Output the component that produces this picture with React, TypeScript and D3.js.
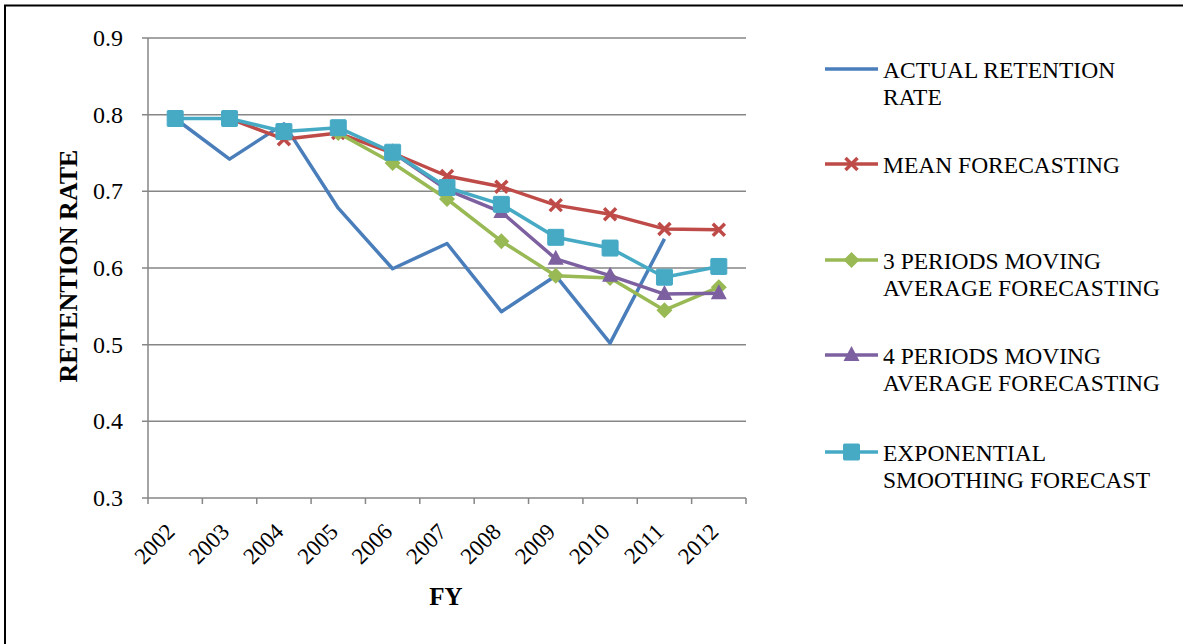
import { useEffect, useRef } from 'react';
import * as d3 from 'd3';

const years = ['2002', '2003', '2004', '2005', '2006', '2007', '2008', '2009', '2010', '2011', '2012'];
const yTicks = [0.3, 0.4, 0.5, 0.6, 0.7, 0.8, 0.9];

// null = no value for that year
const actual = [0.795, 0.742, 0.788, 0.678, 0.599, 0.632, 0.543, 0.590, 0.502, 0.638, null];
const meanForecast = [null, 0.795, 0.768, 0.776, 0.750, 0.720, 0.706, 0.682, 0.670, 0.651, 0.650];
const ma3 = [null, null, null, 0.776, 0.737, 0.690, 0.635, 0.590, 0.587, 0.545, 0.575];
const ma4 = [null, null, null, null, 0.751, 0.702, 0.673, 0.612, 0.590, 0.566, 0.567];
const expSmooth = [0.795, 0.795, 0.778, 0.783, 0.751, 0.705, 0.683, 0.640, 0.626, 0.588, 0.602];

const seriesNames = [
  ['ACTUAL RETENTION', 'RATE'],
  ['MEAN FORECASTING'],
  ['3 PERIODS MOVING', 'AVERAGE FORECASTING'],
  ['4 PERIODS MOVING', 'AVERAGE FORECASTING'],
  ['EXPONENTIAL', 'SMOOTHING FORECAST'],
];

const colors = ['#4a7ebb', '#be4b48', '#98b954', '#7d60a0', '#46aac5'];
const markers = ['none', 'cross', 'diamond', 'triangle', 'square'];

export default function App() {
  const svgRef = useRef<SVGSVGElement>(null);

  useEffect(() => {
    document.body.style.margin = '0';
    if (!svgRef.current) return;
    const svg = d3.select(svgRef.current);
    svg.selectAll('*').remove();

    const W = 1183, H = 644;
    const left = 148, right = 746, top = 38, bottom = 498;
    const font = '"Liberation Serif", "Times New Roman", serif';

    svg.attr('width', W).attr('height', H);
    svg.append('rect').attr('width', W).attr('height', H).attr('fill', '#fff');

    // outer frame (right and bottom sides fall outside the picture)
    svg.append('rect')
      .attr('x', 5).attr('y', 5.5)
      .attr('width', 1200).attr('height', 660)
      .attr('fill', 'none').attr('stroke', '#000').attr('stroke-width', 2);

    const x = d3.scaleBand().domain(years).range([left, right]);
    const y = d3.scaleLinear().domain([0.3, 0.9]).range([bottom, top]);
    const cx = (i: number) => x(years[i])! + x.bandwidth() / 2;

    // gridlines
    yTicks.forEach(t => {
      svg.append('line')
        .attr('x1', left - 6).attr('x2', right)
        .attr('y1', y(t)).attr('y2', y(t))
        .attr('stroke', '#868686').attr('stroke-width', 1.5);
      svg.append('text')
        .attr('x', 123).attr('y', y(t) + 8)
        .attr('text-anchor', 'end')
        .style('font-family', font).style('font-size', '24px')
        .text(t.toFixed(1));
    });

    // y axis line
    svg.append('line')
      .attr('x1', left).attr('x2', left).attr('y1', top).attr('y2', bottom)
      .attr('stroke', '#868686').attr('stroke-width', 1.5);

    // x ticks
    d3.range(years.length + 1).forEach(i => {
      const tx = left + i * x.bandwidth();
      svg.append('line')
        .attr('x1', tx).attr('x2', tx).attr('y1', bottom).attr('y2', bottom + 6)
        .attr('stroke', '#868686').attr('stroke-width', 1.5);
    });

    years.forEach((yr, i) => {
      svg.append('text')
        .attr('transform', `translate(${cx(i) + 1},${bottom + 35}) rotate(-45)`)
        .attr('text-anchor', 'end')
        .style('font-family', font).style('font-size', '23px')
        .text(yr);
    });

    // axis titles
    svg.append('text')
      .attr('x', 446).attr('y', 605)
      .attr('text-anchor', 'middle')
      .style('font-family', font).style('font-size', '25px').style('font-weight', 'bold')
      .text('FY');
    svg.append('text')
      .attr('transform', `translate(77,266) rotate(-90)`)
      .attr('text-anchor', 'middle')
      .style('font-family', font).style('font-size', '26px').style('font-weight', 'bold')
      .text('RETENTION RATE');

    const drawMarker = (g: d3.Selection<SVGGElement, unknown, null, undefined>, kind: string, px: number, py: number, color: string) => {
      if (kind === 'square') {
        g.append('rect').attr('x', px - 8).attr('y', py - 8).attr('width', 16).attr('height', 16)
          .attr('fill', color).attr('stroke', color).attr('stroke-width', 1).attr('rx', 1);
      } else if (kind === 'diamond') {
        g.append('path').attr('d', `M${px},${py - 8}L${px + 8},${py}L${px},${py + 8}L${px - 8},${py}Z`)
          .attr('fill', color);
      } else if (kind === 'triangle') {
        g.append('path').attr('d', `M${px},${py - 9}L${px + 8},${py + 6}L${px - 8},${py + 6}Z`)
          .attr('fill', color);
      } else if (kind === 'cross') {
        g.append('path').attr('d', `M${px - 6},${py - 6}L${px + 6},${py + 6}M${px - 6},${py + 6}L${px + 6},${py - 6}`)
          .attr('stroke', color).attr('stroke-width', 3.5).attr('fill', 'none');
      }
    };

    const data = [actual, meanForecast, ma3, ma4, expSmooth];
    const line = d3.line<[number, number | null]>()
      .defined(d => d[1] !== null)
      .x(d => cx(d[0]))
      .y(d => y(d[1] as number));

    data.forEach((vals, s) => {
      const g = svg.append('g');
      const pts: [number, number | null][] = vals.map((v, i) => [i, v]);
      g.append('path')
        .attr('d', line(pts))
        .attr('fill', 'none')
        .attr('stroke', colors[s])
        .attr('stroke-width', 3.5)
        .attr('stroke-linejoin', 'round');
      pts.forEach(([i, v]) => {
        if (v !== null) drawMarker(g, markers[s], cx(i), y(v), colors[s]);
      });
    });

    // legend
    const legendY = [69, 164, 260, 355, 452];
    seriesNames.forEach((lines, s) => {
      const g = svg.append('g');
      const ly = legendY[s];
      g.append('line')
        .attr('x1', 825).attr('x2', 878).attr('y1', ly).attr('y2', ly)
        .attr('stroke', colors[s]).attr('stroke-width', 3.5);
      drawMarker(g, markers[s], 851.5, ly, colors[s]);
      lines.forEach((t, k) => {
        g.append('text')
          .attr('x', 883).attr('y', ly + 9 + k * 27)
          .style('font-family', font).style('font-size', '23.5px')
          .text(t);
      });
    });
  }, []);

  return <svg ref={svgRef} style={{ display: 'block' }} />;
}
